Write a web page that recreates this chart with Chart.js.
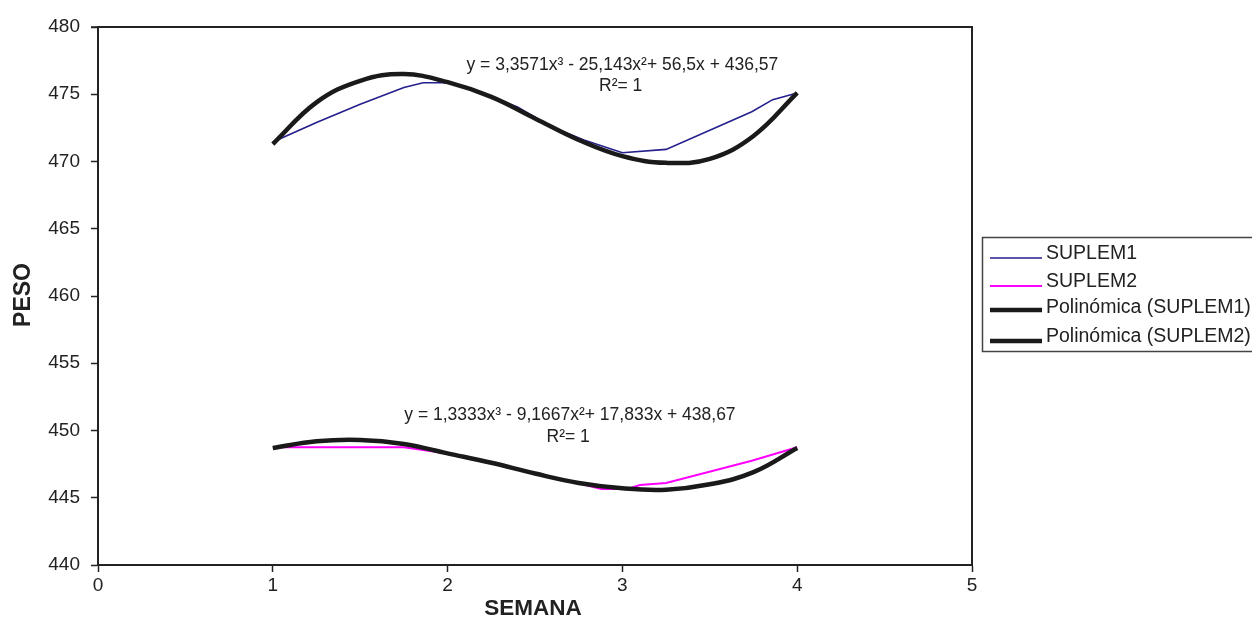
<!DOCTYPE html>
<html>
<head>
<meta charset="utf-8">
<script src="https://cdn.jsdelivr.net/npm/chart.js@4"></script>
<style>
  html, body { margin: 0; padding: 0; background: #fff; }
  #wrap { width: 1252px; height: 618px; }
</style>
</head>
<body>
<div id="wrap"><canvas id="myChart" width="1252" height="618"></canvas></div>
<script>
// semana / peso
const suplem1X = [1, 1.25, 1.5, 1.75, 1.86, 2.0, 2.1, 2.2, 2.4, 2.59, 2.78, 3.0, 3.25, 3.74, 3.86, 4.0];
const suplem1Y = [471.45, 472.9, 474.25, 475.5, 475.85, 475.85, 475.6, 475.05, 474.05, 472.6, 471.6, 470.65, 470.9, 473.7, 474.6, 475.1];
const suplem2X = [1, 1.75, 1.94, 2.21, 2.49, 2.77, 2.88, 3.03, 3.1, 3.25, 3.74, 4.0];
const suplem2Y = [448.75, 448.75, 448.4, 447.7, 446.8, 446.0, 445.65, 445.65, 445.95, 446.1, 447.75, 448.75];
const trendX = [1, 1.25, 1.5, 1.75, 2, 2.25, 2.5, 2.75, 3, 3.25, 3.5, 3.75, 4];
const trend1Y = [471.3, 474.4, 476.0, 476.5, 475.9, 474.8, 473.2, 471.6, 470.4, 469.9, 470.2, 471.9, 475.1];
const trend2Y = [448.7, 449.2, 449.3, 449.0, 448.3, 447.6, 446.8, 446.1, 445.7, 445.6, 446.0, 446.9, 448.7];
const xTicks = [0, 1, 2, 3, 4, 5];
const yTicks = [440, 445, 450, 455, 460, 465, 470, 475, 480];
const seriesNames = ['SUPLEM1', 'SUPLEM2', 'Polinómica (SUPLEM1)', 'Polinómica (SUPLEM2)'];
const equations = [
    { text: 'y = 3,3571x³ - 25,143x²+ 56,5x + 436,57', x: 3.0, y: 477.17 },
    { text: 'R²= 1', x: 2.99, y: 475.6 },
    { text: 'y = 1,3333x³ - 9,1667x²+ 17,833x + 438,67', x: 2.70, y: 451.15 },
    { text: 'R²= 1', x: 2.69, y: 449.5 }
];

const FONT = '"Liberation Sans", Arial, sans-serif';
const INK = '#222';

function pts(xs, ys) {
    return xs.map((x, i) => ({ x: x, y: ys[i] }));
}

const extras = {
    id: 'extras',
    afterDatasetsDraw(chart) {
        const ctx = chart.ctx;
        const a = chart.chartArea;
        const xs = chart.scales.x, ys = chart.scales.y;
        ctx.save();
        // top and right frame
        ctx.strokeStyle = INK;
        ctx.lineWidth = 2;
        ctx.beginPath();
        ctx.moveTo(a.left, a.top);
        ctx.lineTo(a.right, a.top);
        ctx.lineTo(a.right, a.bottom);
        ctx.stroke();
        // 480 tick
        ctx.lineWidth = 1.5;
        ctx.beginPath();
        ctx.moveTo(a.left - 7, a.top);
        ctx.lineTo(a.left, a.top);
        ctx.stroke();

        // trendline equations
        ctx.fillStyle = INK;
        ctx.font = '17.5px ' + FONT;
        ctx.textAlign = 'center';
        ctx.textBaseline = 'middle';
        equations.forEach(e => {
            ctx.fillText(e.text, xs.getPixelForValue(e.x), ys.getPixelForValue(e.y));
        });

        // axis titles
        ctx.font = 'bold 22.5px ' + FONT;
        ctx.fillText('SEMANA', 533, 609);
        ctx.save();
        ctx.translate(24, 295);
        ctx.rotate(-Math.PI / 2);
        ctx.font = 'bold 23px ' + FONT;
        ctx.fillText('PESO', 0, 0);
        ctx.restore();

        // legend box
        ctx.strokeStyle = '#444';
        ctx.lineWidth = 1.5;
        ctx.strokeRect(982.5, 237.5, 300, 114);
        const rows = [254, 282, 308, 337];
        const lineY = [258, 286, 310, 341];
        chart.data.datasets.forEach((ds, i) => {
            ctx.strokeStyle = ds.borderColor;
            ctx.lineWidth = ds.borderWidth;
            ctx.beginPath();
            ctx.moveTo(990, lineY[i]);
            ctx.lineTo(1042, lineY[i]);
            ctx.stroke();
            ctx.fillStyle = INK;
            ctx.font = '19.5px ' + FONT;
            ctx.textAlign = 'left';
            ctx.fillText(ds.label, 1046, rows[i]);
        });
        ctx.restore();
    }
};

const ctx = document.getElementById('myChart').getContext('2d');
const chart = new Chart(ctx, {
    type: 'scatter',
    data: {
        datasets: [
            {
                label: seriesNames[0],
                data: pts(suplem1X, suplem1Y),
                showLine: true,
                borderColor: '#231f8c',
                borderWidth: 1.6,
                pointRadius: 0,
                tension: 0,
                order: 2
            },
            {
                label: seriesNames[1],
                data: pts(suplem2X, suplem2Y),
                showLine: true,
                borderColor: '#ff00ff',
                borderWidth: 2,
                pointRadius: 0,
                tension: 0,
                order: 2
            },
            {
                label: seriesNames[2],
                data: pts(trendX, trend1Y),
                showLine: true,
                borderColor: '#1a1a1a',
                borderWidth: 4.5,
                pointRadius: 0,
                tension: 0.4,
                order: 1
            },
            {
                label: seriesNames[3],
                data: pts(trendX, trend2Y),
                showLine: true,
                borderColor: '#1a1a1a',
                borderWidth: 4.5,
                pointRadius: 0,
                tension: 0.4,
                order: 1
            }
        ]
    },
    options: {
        responsive: false,
        animation: false,
        layout: { padding: { top: 27, right: 280, left: 0, bottom: 0 } },
        plugins: {
            legend: { display: false },
            tooltip: { enabled: false }
        },
        scales: {
            x: {
                type: 'linear',
                min: 0,
                max: 5,
                afterBuildTicks: (scale) => { scale.ticks = xTicks.map(v => ({ value: v })); },
                afterFit: (scale) => { scale.height = 53; },
                ticks: { color: INK, font: { family: FONT, size: 19 }, padding: 2 },
                grid: { drawOnChartArea: false, drawTicks: true, tickLength: 7, tickColor: INK, tickWidth: 1.5 },
                border: { display: true, color: INK, width: 2 }
            },
            y: {
                type: 'linear',
                min: 440,
                max: 480,
                afterBuildTicks: (scale) => { scale.ticks = yTicks.map(v => ({ value: v })); },
                afterFit: (scale) => { scale.width = 98; },
                ticks: { color: INK, font: { family: FONT, size: 19 }, padding: 11 },
                grid: { drawOnChartArea: false, drawTicks: true, tickLength: 7, tickColor: INK, tickWidth: 1.5 },
                border: { display: true, color: INK, width: 2 }
            }
        }
    },
    plugins: [extras]
});
</script>
</body>
</html>
